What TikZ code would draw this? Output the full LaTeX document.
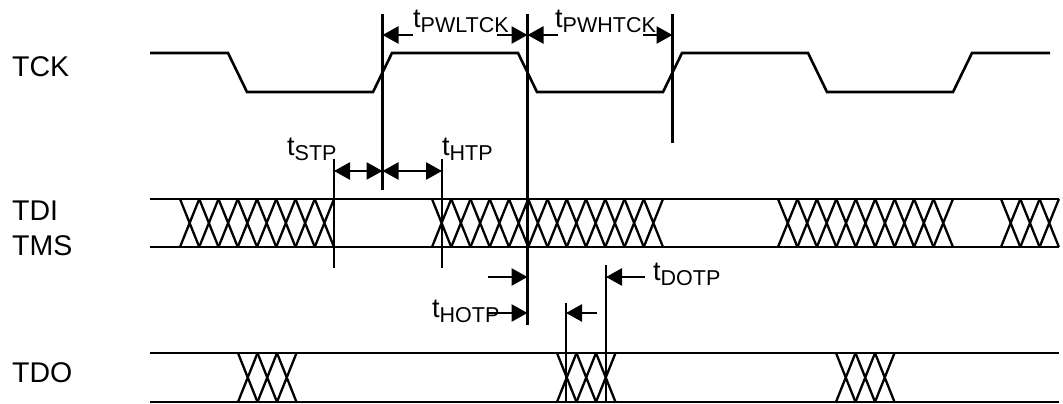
\documentclass[tikz,border=0pt]{standalone}
\usepackage{fontspec}
\setmainfont{Liberation Sans}
\usetikzlibrary{arrows.meta}
\newcommand{\tlab}[1]{{\fontsize{27}{30}\selectfont t}\raisebox{-5pt}{\fontsize{21.5}{24}\selectfont #1}}
\newcommand{\XChain}[5]{%
  \foreach \k in {1,...,#2}{%
    \draw[xline] ({#1+(\k-1)*#3},#4) -- ({#1+\k*#3},#5)
                 ({#1+(\k-1)*#3},#5) -- ({#1+\k*#3},#4);
  }%
}
\begin{document}
\begin{tikzpicture}[x=1pt,y=-1pt,
  sig/.style={line width=2.6pt, line join=miter},
  xline/.style={line width=2.3pt},
  marker/.style={line width=2.6pt},
  dim/.style={line width=2.6pt, -{Triangle[length=16pt,width=17pt]}},
  dimdbl/.style={line width=2.6pt, {Triangle[length=16pt,width=17pt]}-{Triangle[length=16pt,width=17pt]}},
  signame/.style={anchor=base west, inner sep=0pt, font=\fontsize{28.5}{32}\selectfont},
  tname/.style={anchor=base west, inner sep=0pt}]
\useasboundingbox (0,0) rectangle (1063,404);

% signal names
\node[signame] (ltck) at (12,77) {TCK};
\node[signame] (ltdi) at (12,220) {TDI};
\node[signame] (ltms) at (12,255) {TMS};
\node[signame] (ltdo) at (12,382) {TDO};

% TCK waveform
\draw[sig] (150,53) -- (228,53) -- (247,92) -- (373,92) -- (392,53) -- (518,53)
  -- (537,92) -- (663,92) -- (682,53) -- (808,53) -- (827,92) -- (953,92)
  -- (972,53) -- (1050,53);

% TDI/TMS bus
\draw[sig] (150,199) -- (1059,199);
\draw[sig] (150,247) -- (1059,247);
\XChain{180}{8}{19.25}{199}{247}
\XChain{432}{12}{19.25}{199}{247}
\XChain{778}{9}{19.44}{199}{247}
\XChain{1001}{3}{19.3}{199}{247}

% TDO bus
\draw[sig] (150,353) -- (1059,353);
\draw[sig] (150,402) -- (1059,402);
\XChain{238}{3}{19.5}{353}{402}
\XChain{557}{3}{19.5}{353}{402}
\XChain{836}{3}{19.5}{353}{402}

% vertical reference lines
\coordinate (v1t) at (382.5,14);  \coordinate (v1b) at (382.5,190);
\coordinate (v2t) at (527.5,14);  \coordinate (v2b) at (527.5,325);
\coordinate (v3t) at (672.5,14);  \coordinate (v3b) at (672.5,143);
\coordinate (vst) at (334,159);   \coordinate (vsb) at (334,268);
\coordinate (vht) at (442,159);   \coordinate (vhb) at (442,268);
\coordinate (vat) at (566,303);   \coordinate (vab) at (566,402);
\coordinate (vbt) at (606,265);   \coordinate (vbb) at (606,402);
\draw[marker] (v1t) -- (v1b);
\draw[marker] (v2t) -- (v2b);
\draw[marker] (v3t) -- (v3b);
\draw[marker] (vst) -- (vsb);
\draw[marker] (vht) -- (vhb);
\draw[marker] (vat) -- (vab);
\draw[marker] (vbt) -- (vbb);

% tPWLTCK / tPWHTCK
\coordinate (a1) at (413,35);  \coordinate (a1e) at (382.5,35);
\coordinate (a2) at (497,35);  \coordinate (a2e) at (527.5,35);
\coordinate (a3) at (558,35);  \coordinate (a3e) at (527.5,35);
\coordinate (a4) at (643,35);  \coordinate (a4e) at (672.5,35);
\draw[dim] (a1) -- (a1e);
\draw[dim] (a2) -- (a2e);
\draw[dim] (a3) -- (a3e);
\draw[dim] (a4) -- (a4e);
\node[tname] (tpwl) at (413,28) {\tlab{PWLTCK}};
\node[tname] (tpwh) at (555,28) {\tlab{PWHTCK}};

% tSTP / tHTP
\coordinate (s1) at (334,171); \coordinate (s2) at (382.5,171); \coordinate (s3) at (442,171);
\draw[dimdbl] (s1) -- (s2);
\draw[dimdbl] (s2) -- (s3);
\node[tname] (tstp) at (287,155) {\tlab{STP}};
\node[tname] (thtp) at (442,155) {\tlab{HTP}};

% tHOTP / tDOTP
\coordinate (h1) at (488,277); \coordinate (h1e) at (527.5,277);
\coordinate (h2) at (487,313); \coordinate (h2e) at (527.5,313);
\coordinate (d1) at (597,313); \coordinate (d1e) at (566,313);
\coordinate (d2) at (645,277); \coordinate (d2e) at (606,277);
\draw[dim] (h1) -- (h1e);
\draw[dim] (h2) -- (h2e);
\draw[dim] (d1) -- (d1e);
\draw[dim] (d2) -- (d2e);
\node[tname] (thotp) at (432,317) {\tlab{HOTP}};
\node[tname] (tdotp) at (653,280) {\tlab{DOTP}};
\end{tikzpicture}
\end{document}
